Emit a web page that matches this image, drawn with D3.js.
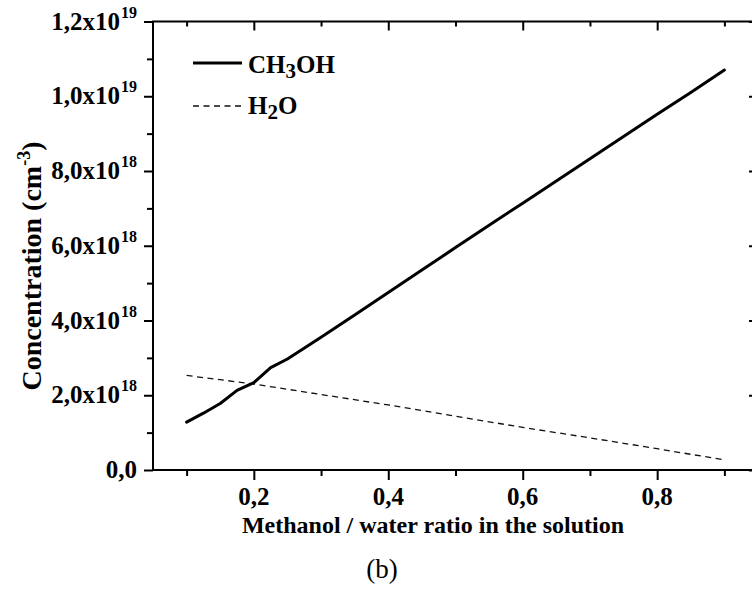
<!DOCTYPE html>
<html>
<head>
<meta charset="utf-8">
<script src="https://cdn.jsdelivr.net/npm/d3@7"></script>
<style>
  html, body { margin: 0; padding: 0; background: #fff; }
  svg { display: block; font-family: "Liberation Serif", "Times New Roman", serif; }
</style>
</head>
<body>
<svg id="chart" width="752" height="589"></svg>
<script>
// ---- Data ----
const ch3ohX = [0.1, 0.125, 0.15, 0.175, 0.2, 0.225, 0.25, 0.3, 0.35, 0.4, 0.45, 0.5, 0.55, 0.6, 0.65, 0.7, 0.75, 0.8, 0.85, 0.9];
const ch3ohY = [1.28e18, 1.52e18, 1.78e18, 2.13e18, 2.34e18, 2.74e18, 2.97e18, 3.55e18, 4.15e18, 4.75e18, 5.35e18, 5.95e18, 6.55e18, 7.14e18, 7.73e18, 8.33e18, 8.92e18, 9.52e18, 10.1e18, 10.7e18];
const h2oX = [0.1, 0.2, 0.3, 0.4, 0.5, 0.6, 0.7, 0.8, 0.9];
const h2oY = [2.53e18, 2.30e18, 2.02e18, 1.74e18, 1.44e18, 1.14e18, 0.86e18, 0.57e18, 0.27e18];

const xMajorTicks = [0.2, 0.4, 0.6, 0.8];
const xTickLabels = ["0,2", "0,4", "0,6", "0,8"];
const xMinorTicks = [0.1, 0.3, 0.5, 0.7, 0.9];
const yMajorTicks = [0, 2e18, 4e18, 6e18, 8e18, 1.0e19, 1.2e19];
const yTickMantissa = ["0,0", "2,0x10", "4,0x10", "6,0x10", "8,0x10", "1,0x10", "1,2x10"];
const yTickExponent = ["", "18", "18", "18", "18", "19", "19"];
const yMinorTicks = [1e18, 3e18, 5e18, 7e18, 9e18, 1.1e19];

const seriesNames = ["CH", "3", "OH"];
const xTitle = "Methanol / water ratio in the solution";
const panelLabel = "(b)";

// ---- Layout ----
const L = 153, R = 758, T = 21.5, B = 470;
const svg = d3.select("#chart");
svg.append("rect").attr("width", 752).attr("height", 589).attr("fill", "#fff");

const x = d3.scaleLinear().domain([0.05, 0.95]).range([L, R]);
const y = d3.scaleLinear().domain([0, 1.2e19]).range([B, T]);

const bold = "bold";

function styleAxis(g) {
  g.select(".domain").remove();
  g.selectAll(".tick line").attr("stroke", "#000").attr("stroke-width", 2);
  g.selectAll(".tick text").remove();
}
// bottom
svg.append("g").attr("transform", `translate(0,${B})`)
  .call(d3.axisBottom(x).tickValues(xMajorTicks).tickSize(10)).call(styleAxis);
svg.append("g").attr("transform", `translate(0,${B})`)
  .call(d3.axisBottom(x).tickValues(xMinorTicks).tickSize(6)).call(styleAxis);
// top (inward)
svg.append("g").attr("transform", `translate(0,${T})`)
  .call(d3.axisBottom(x).tickValues(xMajorTicks).tickSize(9)).call(styleAxis);
svg.append("g").attr("transform", `translate(0,${T})`)
  .call(d3.axisBottom(x).tickValues(xMinorTicks).tickSize(5)).call(styleAxis);
// left
svg.append("g").attr("transform", `translate(${L},0)`)
  .call(d3.axisLeft(y).tickValues(yMajorTicks).tickSize(9)).call(styleAxis);
svg.append("g").attr("transform", `translate(${L},0)`)
  .call(d3.axisLeft(y).tickValues(yMinorTicks).tickSize(6)).call(styleAxis);
// right (inward)
svg.append("g").attr("transform", `translate(${R},0)`)
  .call(d3.axisLeft(y).tickValues(yMajorTicks).tickSize(9)).call(styleAxis);
svg.append("g").attr("transform", `translate(${R},0)`)
  .call(d3.axisLeft(y).tickValues(yMinorTicks).tickSize(5)).call(styleAxis);

// frame
svg.append("rect").attr("x", L).attr("y", T).attr("width", R - L).attr("height", B - T)
  .attr("fill", "none").attr("stroke", "#000").attr("stroke-width", 2);

// x tick labels
svg.append("g").selectAll("text").data(xMajorTicks).join("text")
  .attr("x", d => x(d)).attr("y", B + 35)
  .attr("text-anchor", "middle").attr("font-size", 25).attr("font-weight", bold)
  .text((d, i) => xTickLabels[i]);

// y tick labels
const yl = svg.append("g").selectAll("text").data(yMajorTicks).join("text")
  .attr("x", 137).attr("y", d => y(d) + 8)
  .attr("text-anchor", "end").attr("font-size", 25).attr("font-weight", bold);
yl.append("tspan").text((d, i) => yTickMantissa[i]);
yl.append("tspan").attr("dx", 1).attr("dy", -12).attr("font-size", 16)
  .text((d, i) => yTickExponent[i]);

// axis titles
svg.append("text").attr("x", 433).attr("y", 533).attr("text-anchor", "middle")
  .attr("font-size", 24).attr("font-weight", bold).text(xTitle);

const yt = svg.append("text").attr("transform", "translate(41,266) rotate(-90)")
  .attr("text-anchor", "middle").attr("font-size", 28).attr("font-weight", bold);
yt.append("tspan").text("Concentration (cm");
yt.append("tspan").attr("dy", -11).attr("font-size", 18).text("-3");
yt.append("tspan").attr("dy", 11).text(")");

svg.append("text").attr("x", 382).attr("y", 578).attr("text-anchor", "middle")
  .attr("font-size", 27).text(panelLabel);

// clip
svg.append("clipPath").attr("id", "clip").append("rect")
  .attr("x", L).attr("y", T).attr("width", R - L).attr("height", B - T);

const line = d3.line().x(d => x(d[0])).y(d => y(d[1]));
svg.append("path").attr("clip-path", "url(#clip)")
  .datum(h2oX.map((v, i) => [v, h2oY[i]]))
  .attr("d", line).attr("fill", "none").attr("stroke", "#111")
  .attr("stroke-width", 1.3).attr("stroke-dasharray", "6,4.5");
svg.append("path").attr("clip-path", "url(#clip)")
  .datum(ch3ohX.map((v, i) => [v, ch3ohY[i]]))
  .attr("d", line).attr("fill", "none").attr("stroke", "#000")
  .attr("stroke-width", 3).attr("stroke-linejoin", "round").attr("stroke-linecap", "round");

// legend
const lg = svg.append("g");
lg.append("line").attr("x1", 193).attr("x2", 242).attr("y1", 63).attr("y2", 63)
  .attr("stroke", "#000").attr("stroke-width", 3);
const t1 = lg.append("text").attr("x", 248).attr("y", 73).attr("font-size", 25).attr("font-weight", bold);
t1.append("tspan").text(seriesNames[0]);
t1.append("tspan").attr("dy", 5).attr("font-size", 21).text(seriesNames[1]);
t1.append("tspan").attr("dy", -5).text(seriesNames[2]);

lg.append("line").attr("x1", 193).attr("x2", 242).attr("y1", 106).attr("y2", 106)
  .attr("stroke", "#111").attr("stroke-width", 1.3).attr("stroke-dasharray", "6,4.5");
const t2 = lg.append("text").attr("x", 248).attr("y", 114).attr("font-size", 25).attr("font-weight", bold);
t2.append("tspan").text("H");
t2.append("tspan").attr("dy", 5).attr("font-size", 21).text("2");
t2.append("tspan").attr("dy", -5).text("O");
</script>
</body>
</html>
